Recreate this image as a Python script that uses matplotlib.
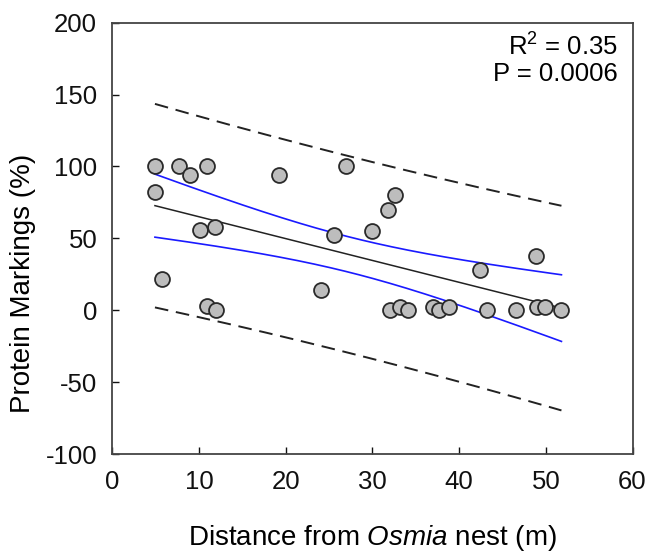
import numpy as np
import matplotlib
matplotlib.use("Agg")
import matplotlib.pyplot as plt

# ---------------------------------------------------------------
# data: distance (m) vs protein markings (%)
# ---------------------------------------------------------------

distance = [4.9, 7.7, 9.0, 10.9, 4.9, 10.1, 11.8, 5.7, 10.9, 12.0,
            19.2, 26.9, 25.6, 29.9, 24.1, 32.0, 32.6, 31.8, 42.4, 33.2,
            34.1, 37.0, 37.7, 38.8, 43.2, 46.6, 48.9, 49.0, 49.9, 51.8]
markings = [100, 100, 94, 100, 82, 56, 58, 22, 3, 0,
            94, 100, 52, 55, 14, 0, 80, 70, 28, 2,
            0, 2, 0, 2, 0, 0, 38, 2, 2, 0]

x_ticks = [0, 10, 20, 30, 40, 50, 60]
y_ticks = [-100, -50, 0, 50, 100, 150, 200]

T_975 = 2.048   # t quantile, df = 28

plt.rcParams['font.family'] = ['Liberation Sans', 'DejaVu Sans']
plt.rcParams['mathtext.fontset'] = 'custom'
plt.rcParams['mathtext.rm'] = 'Liberation Sans'
plt.rcParams['mathtext.it'] = 'Liberation Sans:italic'
plt.rcParams['mathtext.default'] = 'regular'
plt.rcParams['axes.unicode_minus'] = False

# ---------------------------------------------------------------
# linear regression with 95% confidence and prediction bands
# ---------------------------------------------------------------

x = np.array(distance)
y = np.array(markings)
n = len(x)
slope, intercept = np.polyfit(x, y, 1)
resid = y - (slope * x + intercept)
s = np.sqrt(np.sum(resid ** 2) / (n - 2))
sxx = np.sum((x - x.mean()) ** 2)

xf = np.linspace(x.min(), x.max(), 200)
yf = slope * xf + intercept
ci = T_975 * s * np.sqrt(1 / n + (xf - x.mean()) ** 2 / sxx)
pi = T_975 * s * np.sqrt(1 + 1 / n + (xf - x.mean()) ** 2 / sxx)

# ---------------------------------------------------------------
# plot
# ---------------------------------------------------------------

fig = plt.figure(figsize=(6.49, 5.52), dpi=100)
ax = fig.add_axes([0.1733, 0.1775, 0.8013, 0.7814])

ax.plot(xf, yf + pi, color='#222222', lw=1.4, dashes=(7, 4))
ax.plot(xf, yf - pi, color='#222222', lw=1.4, dashes=(7, 4))
ax.plot(xf, yf + ci, color='#1a1aff', lw=1.2)
ax.plot(xf, yf - ci, color='#1a1aff', lw=1.2)
ax.plot(xf, yf, color='#222222', lw=1.1)

ax.scatter(x, y, s=115, facecolor='#bdbdbd', edgecolor='#2a2a2a',
           linewidth=1.3, zorder=3)

ax.set_xlim(0, 60)
ax.set_ylim(-100, 200)
ax.set_xticks(x_ticks)
ax.set_yticks(y_ticks)
ax.tick_params(direction='in', length=5, width=1, labelsize=18.5,
               colors='#111111')
ax.tick_params(axis='x', pad=11.5)
ax.tick_params(axis='y', pad=11)
for sp in ax.spines.values():
    sp.set_color('#444444')
    sp.set_linewidth(1.3)

ax.set_xlabel('Distance from $\\it{Osmia}$ nest (m)', fontsize=20, labelpad=21)
ax.set_ylabel('Protein Markings (%)', fontsize=20)
ax.yaxis.set_label_coords(-0.147, 0.395)

ax.text(0.972, 0.975, 'R$^2$ = 0.35\nP = 0.0006', transform=ax.transAxes,
        ha='right', va='top', fontsize=18.5, linespacing=1.05)

fig.savefig('out.png', dpi=100)
